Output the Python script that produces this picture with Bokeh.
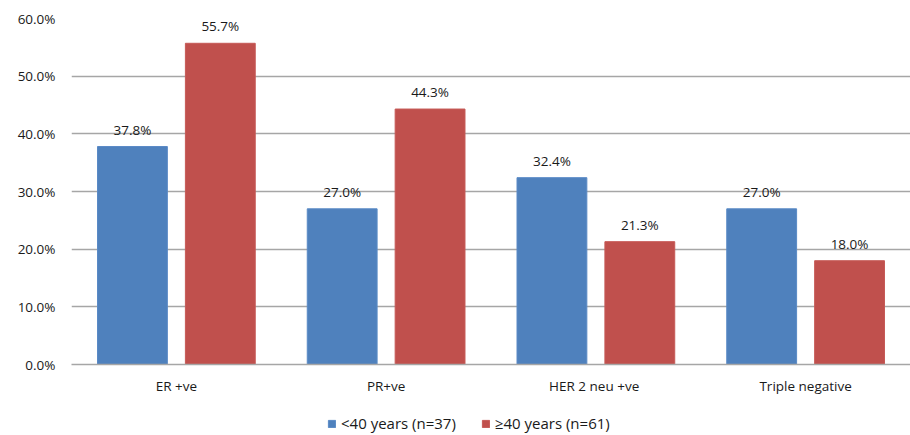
from bokeh.plotting import figure
from bokeh.layouts import column
from bokeh.models import ColumnDataSource, FactorRange, Legend, LegendItem, PrintfTickFormatter, FixedTicker
from bokeh.transform import dodge
from bokeh.core.properties import value
from bokeh.embed import file_html
from bokeh.resources import INLINE

categories = ["ER +ve", "PR+ve", "HER 2 neu  +ve", "Triple negative"]
under40 = [37.8, 27.0, 32.4, 27.0]
over40 = [55.7, 44.3, 21.3, 18.0]
series_names = ["<40 years (n=37)", "\u226540 years (n=61)"]
y_ticks = [0, 10, 20, 30, 40, 50, 60]

FONT = "Open Sans"
FS = "13.5px"
TXT = "#1a1a1a"
BLUE = "#4F81BD"
RED = "#C0504D"
BLUE_EDGE = "#5A8AC6"
RED_EDGE = "#C65A57"
GRID = "#A6A6A6"

src = ColumnDataSource(dict(
    cat=categories,
    a=under40,
    b=over40,
    a_lbl=[f"{v:.1f}%" for v in under40],
    b_lbl=[f"{v:.1f}%" for v in over40],
))

p = figure(width=910, height=400, x_range=FactorRange(*categories, range_padding=0),
           y_range=(0, 60), output_backend="svg", toolbar_location=None,
           min_border_left=71, min_border_right=0, min_border_top=18, min_border_bottom=36)

r1 = p.vbar(x=dodge("cat", -0.2095, range=p.x_range), top="a", width=0.333, source=src,
            fill_color=BLUE, line_color=BLUE_EDGE, line_width=1)
r2 = p.vbar(x=dodge("cat", 0.2095, range=p.x_range), top="b", width=0.333, source=src,
            fill_color=RED, line_color=RED_EDGE, line_width=1)

for off, col in ((-0.2095, "a"), (0.2095, "b")):
    p.text(x=dodge("cat", off, range=p.x_range), y=col, text=col + "_lbl", source=src,
           text_font=value(FONT), text_font_size=FS, text_color=TXT,
           text_align="center", text_baseline="middle", y_offset=-17)

p.outline_line_color = None
p.xgrid.grid_line_color = None
p.ygrid.grid_line_color = GRID
p.ygrid.grid_line_width = 1.5
p.yaxis.ticker = FixedTicker(ticks=y_ticks)
p.yaxis.formatter = PrintfTickFormatter(format="%.1f%%")
p.yaxis.axis_line_color = None
p.yaxis.major_tick_line_color = None
p.yaxis.major_tick_out = 0
p.yaxis.major_tick_in = 0
p.yaxis.minor_tick_line_color = None
p.yaxis.major_label_standoff = 16
p.yaxis.major_label_text_font = FONT
p.yaxis.major_label_text_font_size = FS
p.yaxis.major_label_text_color = TXT

p.xaxis.axis_line_color = GRID
p.xaxis.axis_line_width = 1.5
p.xaxis.major_tick_line_color = None
p.xaxis.major_tick_out = 0
p.xaxis.major_tick_in = 0
p.xaxis.minor_tick_line_color = None
p.xaxis.major_label_standoff = 12
p.xaxis.major_label_text_font = FONT
p.xaxis.major_label_text_font_size = FS
p.xaxis.major_label_text_color = TXT

# legend strip
lg = figure(width=910, height=35, x_range=(0, 1), y_range=(0, 1), output_backend="svg",
            toolbar_location=None, x_axis_location=None, y_axis_location=None,
            min_border=0)
lg.outline_line_color = None
lg.xgrid.grid_line_color = None
lg.ygrid.grid_line_color = None
dummy = ColumnDataSource(dict(x=[-10], top=[-10]))
d1 = lg.vbar(x="x", top="top", width=0.1, source=dummy, fill_color=BLUE, line_color=BLUE_EDGE)
d2 = lg.vbar(x="x", top="top", width=0.1, source=dummy, fill_color=RED, line_color=RED_EDGE)

legend = Legend(items=[LegendItem(label=series_names[0], renderers=[d1]),
                       LegendItem(label=series_names[1], renderers=[d2])],
                orientation="horizontal", location=(256, 2),
                label_text_font=FONT, label_text_font_size="15px", label_text_color=TXT,
                glyph_width=9, glyph_height=9, spacing=25, padding=0, margin=0,
                border_line_color=None, background_fill_alpha=0, label_standoff=5)
lg.add_layout(legend, "center")

layout = column(p, lg, spacing=0)
open("out.html", "w").write(file_html(layout, INLINE))
